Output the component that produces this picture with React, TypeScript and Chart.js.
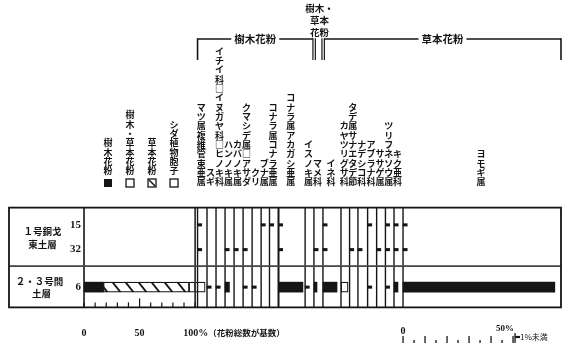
import React, { useEffect, useRef } from 'react';
import { Chart, registerables } from 'chart.js';

Chart.register(...registerables);

// ---------------- data ----------------
const TAXA = [
  'マツ属複維管束亜属', 'スギ', 'イチイ科□イヌガヤ科□ヒノキ科', 'ハンノキ属', 'カバノキ属',
  'クマシデ属□アサダ', 'クリ', 'ブナ属', 'コナラ属コナラ亜属', 'コナラ属アカガシ亜属',
  'イスノキ属', 'マメ科', 'イネ科', 'カヤツリグサ科', 'タデ属サナエタデ節', 'ナデシコ科',
  'アブラナ科', 'ササゲ属', 'ツリフネソウ属', 'キク亜科', 'ヨモギ属',
];
const SAMPLES = ['15', '32', '6'];
// percent of total pollen; 0.5 = present but below 1%
const SAMPLE_15 = [0.5, 0, 0, 0, 0, 0, 0, 0.5, 0.5, 0.5, 0, 0, 0.5, 0, 0, 0, 0.5, 0, 0.5, 0.5, 0.5];
const SAMPLE_32 = [0.5, 0, 0, 0.5, 0.5, 0.5, 0, 0, 0, 0.5, 0, 0.5, 0.5, 0, 0.5, 0.5, 0, 0.5, 0.5, 0.5, 0.5];
const SAMPLE_6 = [0, 0.5, 0.5, 2.0, 0, 0.5, 0.5, 0, 0, 11.1, 0.5, 1.4, 6.4, 3.2, 0, 0, 0.5, 0, 0.5, 1.8, 69];
const OPEN_IN_6 = ['カヤツリグサ科'];
const COMP_LABELS = ['樹木花粉', '樹木・草本花粉', '草本花粉', 'シダ植物胞子'];
const COMP_6 = [17.5, 5.5, 77, 9];
const COMP_TICKS = [0, 10, 20, 30, 40, 50, 60, 70, 80, 90, 100];
const TAXON_TICKS = [0, 5, 10, 15, 20, 25, 30, 35, 40, 45, 50];
const GROUP_TREE = '樹木花粉';
const GROUP_BOTH = ['樹木・', '草本', '花粉'];
const GROUP_HERB = '草本花粉';
const ROW_GROUPS = [['１号銅戈', '東土層'], ['２・３号間', '土層']];

// ---------------- layout (scale units) ----------------
const X_MIN = -34.1;
const COL_START = [51.6, 55.9, 60.0, 64.1, 68.2, 72.3, 76.4, 80.5, 84.3, 88.4, 100.5, 104.5, 108.6, 116.8, 120.7, 124.5, 128.9, 133.0, 137.0, 140.9, 145.0];
const COL_END = 216.8;
const COMP_SCALE = 0.505;
const LEGEND_POS = [21.6, 41.4, 61.2, 81.0];
const ROW_POS = [23, 56, 106];
const ROW_DIVIDER = 78;
const Y_MAX = 133;
const STUB = 1.9;

const JP = '"Noto Sans CJK JP", sans-serif';
const SERIF = '"Liberation Serif", "Noto Sans CJK JP", serif';
const INK = '#151515';

function vtext(ctx: CanvasRenderingContext2D, text: string, x: number, yBottom: number, step: number) {
  const chars = Array.from(text);
  chars.forEach((c, i) => ctx.fillText(c, x, yBottom - (chars.length - 1 - i) * step));
}

function line(ctx: CanvasRenderingContext2D, x1: number, y1: number, x2: number, y2: number, w: number, color = INK) {
  ctx.beginPath();
  ctx.strokeStyle = color;
  ctx.lineWidth = w;
  ctx.moveTo(x1, y1);
  ctx.lineTo(x2, y2);
  ctx.stroke();
}

const pollenPlugin = {
  id: 'pollen',
  afterDatasetsDraw(chart: any) {
    const ctx: CanvasRenderingContext2D = chart.ctx;
    const xs = chart.scales.x;
    const ys = chart.scales.y;
    const X = (u: number) => xs.getPixelForValue(u);
    const Y = (v: number) => ys.getPixelForValue(v);
    ctx.save();

    // hatch in herb composition bar
    const hm = chart.getDatasetMeta(1);
    const el = hm.data[0];
    if (el) {
      const p = el.getProps(['x', 'y', 'base', 'height'], true);
      const left = Math.min(p.x, p.base), right = Math.max(p.x, p.base);
      const top = p.y - p.height / 2, bottom = p.y + p.height / 2;
      ctx.save();
      ctx.beginPath();
      ctx.rect(left, top, right - left, bottom - top);
      ctx.clip();
      for (let lx = left - 4; lx < right + 10; lx += 13) line(ctx, lx, top, lx + 8, bottom, 1.8);
      ctx.restore();
    }

    const L = X(X_MIN), R = X(COL_END), T = Y(0), B = Y(Y_MAX);
    // column baselines
    COL_START.forEach((s, i) => line(ctx, X(s), T, X(s), B, i === 9 ? 2 : 1.4));
    // composition 100% line
    line(ctx, X(100 * COMP_SCALE), T, X(100 * COMP_SCALE), B, 1.7, '#333');
    // divider
    line(ctx, X(0), T, X(0), B, 1.6);
    line(ctx, L, Y(ROW_DIVIDER), R, Y(ROW_DIVIDER), 1.6, '#444');
    // frame
    ctx.strokeStyle = INK;
    ctx.lineWidth = 1.8;
    ctx.strokeRect(L, T, R - L, B - T);

    // composition ticks inside frame bottom
    COMP_TICKS.forEach((t) => {
      const x = X(t * COMP_SCALE);
      line(ctx, x, B, x, B - (t === 50 ? 9 : 5), 1.2);
    });
    // taxon scale ticks below
    const z = COL_START[COL_START.length - 1];
    TAXON_TICKS.forEach((t) => {
      const x = X(z + t);
      line(ctx, x, 343, x, t % 10 === 0 ? 336 : 340, 1.3);
    });
    // "<1%" legend marker
    const x50 = X(z + 50) + 2;
    line(ctx, x50, 333, x50, 343, 1.3);
    line(ctx, x50, 337, x50 + 5, 337, 2.2);

    ctx.fillStyle = INK;
    ctx.textBaseline = 'middle';
    // bottom labels
    ctx.font = `bold 10px ${SERIF}`;
    ctx.textAlign = 'center';
    ctx.fillText('0', X(0), 333);
    ctx.fillText('50', X(50 * COMP_SCALE), 333);
    ctx.textAlign = 'left';
    const hx = X(100 * COMP_SCALE) - 12;
    ctx.fillText('100%', hx, 333);
    const hw0 = ctx.measureText('100%').width;
    ctx.font = `bold 8.5px ${JP}`;
    ctx.fillText('（花粉総数が基数）', hx + hw0, 333);
    ctx.textAlign = 'center';
    ctx.font = `bold 10px ${SERIF}`;
    ctx.fillText('0', X(z), 331);
    ctx.font = `bold 9px ${SERIF}`;
    ctx.textAlign = 'right';
    ctx.fillText('50%', x50 - 1, 329);
    ctx.textAlign = 'left';
    ctx.font = `8px ${JP}`;
    ctx.fillText('1%未満', x50 + 5, 337);

    // sample numbers
    ctx.font = `bold 11px ${SERIF}`;
    ctx.textAlign = 'right';
    SAMPLES.forEach((s, i) => ctx.fillText(s, X(0) - 3, Y(ROW_POS[i])));
    // row group labels
    ctx.font = `bold 9.5px ${JP}`;
    ctx.textAlign = 'center';
    const cx = (L + X(0)) / 2 - 4;
    ctx.fillText(ROW_GROUPS[0][0], cx, Y((ROW_POS[0] + ROW_POS[1]) / 2) - 6);
    ctx.fillText(ROW_GROUPS[0][1], cx, Y((ROW_POS[0] + ROW_POS[1]) / 2) + 7);
    ctx.fillText(ROW_GROUPS[1][0], cx - 3, Y(ROW_POS[2]) - 6);
    ctx.fillText(ROW_GROUPS[1][1], cx - 1, Y(ROW_POS[2]) + 6);

    // taxon labels (vertical)
    ctx.font = `bold 9px ${JP}`;
    TAXA.forEach((t, i) => {
      const a = X(COL_START[i]);
      const b = X(i + 1 < COL_START.length ? COL_START[i + 1] : COL_END);
      vtext(ctx, t, (a + b) / 2 - 1, 182, 9.33);
    });

    // composition legend
    COMP_LABELS.forEach((t, i) => {
      const x = X(LEGEND_POS[i] * COMP_SCALE);
      vtext(ctx, t, x, 171, 9.33);
      const bx = x - 4, by = 179, bs = 8;
      if (i === 0) {
        ctx.fillRect(bx, by, bs, bs);
      } else {
        ctx.strokeStyle = INK;
        ctx.lineWidth = 1.3;
        ctx.strokeRect(bx, by, bs, bs);
        if (i === 2) line(ctx, bx + 1, by + 1, bx + bs - 1, by + bs - 1, 1.5);
      }
    });

    // group header
    const tL = X(COL_START[0]);
    const b1 = X(COL_START[11]) - 1;
    const b2 = X(COL_START[12]) - 1;
    const hY = 39;
    ctx.font = `bold 10.5px ${JP}`;
    ctx.textAlign = 'center';
    const tc = (tL + b1) / 2;
    const tw = ctx.measureText(GROUP_TREE).width / 2 + 3;
    ctx.fillText(GROUP_TREE, tc, hY);
    line(ctx, tL, hY, tc - tw, hY, 1.4);
    line(ctx, tc + tw, hY, b1, hY, 1.4);
    line(ctx, tL, hY - 0.7, tL, 60, 1.6);
    const hc = (b2 + 2 + R) / 2;
    const hw = ctx.measureText(GROUP_HERB).width / 2 + 3;
    ctx.fillText(GROUP_HERB, hc, hY);
    line(ctx, b2 + 2, hY, hc - hw, hY, 1.4);
    line(ctx, hc + hw, hY, R, hY, 1.4);
    line(ctx, R, hY - 0.7, R, 60, 1.6);
    [b1, b2].forEach((bx) => {
      line(ctx, bx, hY - 0.7, bx, 60, 1.2);
      line(ctx, bx + 2.4, hY - 0.7, bx + 2.4, 60, 1.2);
    });
    ctx.font = `bold 9.5px ${JP}`;
    const mc = (b1 + b2) / 2 + 2;
    GROUP_BOTH.forEach((t, i) => ctx.fillText(t, mc, 8 + i * 12));

    ctx.restore();
  },
};

export default function App() {
  const ref = useRef<HTMLCanvasElement>(null);
  useEffect(() => {
    const canvas = ref.current!;
    const rows = [SAMPLE_15, SAMPLE_32, SAMPLE_6];
    const solid: any[] = [];
    const open: any[] = [];
    const trace: any[] = [];
    rows.forEach((vals, si) =>
      vals.forEach((v, ti) => {
        if (!v) return;
        const s = COL_START[ti];
        const y = ROW_POS[si];
        if (v < 1) trace.push({ x: [s, s + STUB], y });
        else if (si === 2 && OPEN_IN_6.includes(TAXA[ti])) open.push({ x: [s, s + v], y });
        else solid.push({ x: [s, s + v], y });
      })
    );
    const [tree, both, herb, fern] = COMP_6;
    const cs = COMP_SCALE;
    const y6 = ROW_POS[2];
    const base = { grouped: false, barThickness: 10, borderSkipped: false } as any;
    const chart = new Chart(canvas, {
      type: 'bar',
      data: {
        datasets: [
          { ...base, label: COMP_LABELS[0], data: [{ x: [0, tree * cs], y: y6 }], backgroundColor: INK, borderWidth: 0 },
          { ...base, label: COMP_LABELS[2], data: [{ x: [tree * cs, (tree + herb) * cs], y: y6 }], backgroundColor: '#fff', borderColor: INK, borderWidth: 1.2 },
          { ...base, label: COMP_LABELS[1], data: [{ x: [(tree + herb) * cs, (tree + herb + both) * cs], y: y6 }], backgroundColor: '#fff', borderColor: INK, borderWidth: 1.2 },
          { ...base, label: COMP_LABELS[3], data: [{ x: [(tree + herb + both) * cs, (tree + herb + both + fern) * cs], y: y6 }], backgroundColor: '#fff', borderColor: INK, borderWidth: 1.2 },
          { ...base, label: 'solid', data: solid, backgroundColor: INK, borderWidth: 0 },
          { ...base, label: 'open', data: open, backgroundColor: '#fff', borderColor: INK, borderWidth: 1.2 },
          { ...base, label: 'trace', data: trace, backgroundColor: INK, borderWidth: 0, barThickness: 2.4 },
        ] as any,
      },
      options: {
        indexAxis: 'y',
        responsive: false,
        animation: false,
        devicePixelRatio: 1,
        layout: { padding: { left: 9, right: 4, top: 191, bottom: 19 } },
        plugins: { legend: { display: false }, tooltip: { enabled: false } },
        scales: {
          x: { type: 'linear', min: X_MIN, max: COL_END, display: false },
          y: { type: 'linear', min: 0, max: Y_MAX, reverse: true, display: false },
        },
      } as any,
      plugins: [pollenPlugin],
    });
    return () => chart.destroy();
  }, []);
  return (
    <div style={{ position: 'absolute', left: 0, top: 0, width: 565, height: 343, background: '#fff' }}>
      <canvas ref={ref} width={565} height={343} style={{ display: 'block' }} />
    </div>
  );
}
